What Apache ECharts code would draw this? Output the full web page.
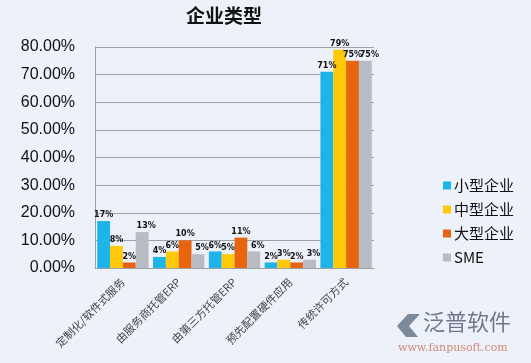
<!DOCTYPE html>
<html><head><meta charset="utf-8">
<script src="https://cdn.jsdelivr.net/npm/echarts@6/dist/echarts.min.js"></script>
<style>html,body{margin:0;padding:0;background:#EDF1FA;}#c{width:531px;height:363px;}</style>
</head><body><div id="c"></div>
<script>
var categories = ['定制化/软件式服务', '由服务商托管ERP', '由第三方托管ERP', '预先配置硬件应用', '传统许可方式'];
var seriesNames = ['小型企业', '中型企业', '大型企业', 'SME'];
var small = [17, 4, 6, 2, 71];
var medium = [8, 6, 5, 3, 79];
var large = [2, 10, 11, 2, 75];
var sme = [13, 5, 6, 3, 75];
var yTicks = [0, 10, 20, 30, 40, 50, 60, 70, 80];
var colors = ['#1DB4E9', '#FFC90A', '#E8640E', '#B8BBC1'];

var chart = echarts.init(document.getElementById('c'));
var dataSets = [small, medium, large, sme];
var series = dataSets.map(function (d, i) {
  return {
    name: seriesNames[i], type: 'bar', data: d,
    barGap: '0%', barCategoryGap: '8%',
    itemStyle: { color: colors[i] },
    label: { show: true, position: 'top', distance: 2, formatter: '{c}%', fontSize: 8, fontWeight: 'bold', color: '#111', fontFamily: 'DejaVu Sans',
      offset: i === 3 ? [4, 0] : [0, 0] }
  };
});
chart.setOption({
  backgroundColor: '#EDF1FA',
  animation: false,
  title: { text: '企业类型', left: 219, top: 1, textAlign: 'center',
    textStyle: { fontSize: 19, fontWeight: 'bold', color: '#111', fontFamily: 'Noto Sans CJK SC' } },
  legend: {
    orient: 'vertical', left: 438, top: 173, itemWidth: 8, itemHeight: 8, itemGap: 9,
    icon: 'rect',
    textStyle: { fontSize: 15, color: '#111', fontFamily: 'Noto Sans CJK SC', padding: [0, 0, 0, -2] },
    data: seriesNames
  },
  grid: { left: 95, right: 157, top: 47, bottom: 95 },
  xAxis: {
    type: 'category', data: categories,
    axisLine: { lineStyle: { color: '#9aa0a8' } },
    axisTick: { show: false },
    axisLabel: { rotate: 45, interval: 0, fontSize: 11, color: '#444', margin: 12, fontFamily: 'Noto Sans CJK SC' }
  },
  yAxis: {
    type: 'value', min: 0, max: 80, interval: 10,
    axisLine: { show: true, lineStyle: { color: '#9aa0a8' } },
    splitLine: { lineStyle: { color: '#9aa3ad' } },
    axisLabel: { fontSize: 16, color: '#111', margin: 20, fontFamily: 'Liberation Sans',
      formatter: function (v) { return yTicks.indexOf(v) >= 0 ? v.toFixed(2) + '%' : ''; } }
  },
  graphic: [
    { type: 'text', left: 423, top: 311, style: { text: '泛普软件', fontSize: 22, fill: '#6C7A8C', fontFamily: 'Noto Sans CJK SC' } },
    { type: 'text', left: 398, top: 343, style: { text: 'www.fanpusoft.com', fontSize: 11, fill: '#D08A70', fontFamily: 'DejaVu Serif' } },
    { type: 'polygon', shape: { points: [[397, 326], [408, 314], [420, 314], [409, 326], [418, 337], [406, 337]] }, style: { fill: '#7D8A99' } }
  ],
  series: series
});
</script></body></html>
